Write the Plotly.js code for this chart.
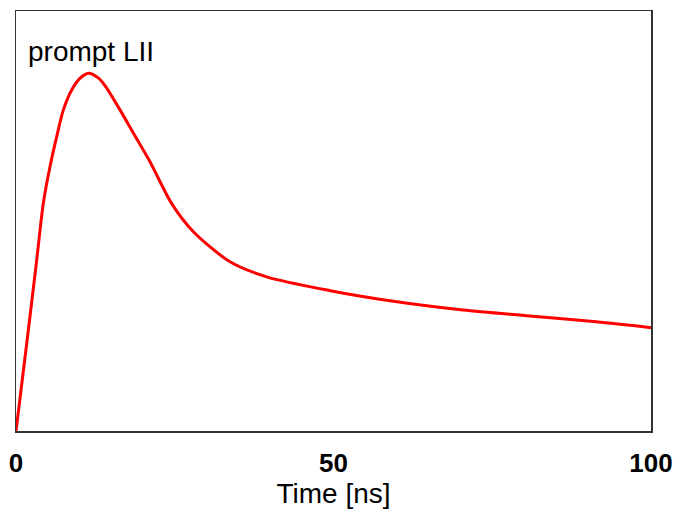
<!DOCTYPE html>
<html><head><meta charset="utf-8">
<script src="https://cdn.plot.ly/plotly-3.0.1.min.js"></script>
<style>html,body{margin:0;padding:0;background:#fff}#chart{width:673px;height:511px}</style>
</head><body><div id="chart"></div>
<script>
const timeNs = [0, 1.7, 3.26, 4.3, 5.35, 6.41, 7.45, 8.77, 10.1, 11.4, 13.0, 14.3, 16.4, 18.5, 21.1, 24.5, 27.9, 33.7, 39.5, 49.5, 58.9, 70.4, 80.9, 91.4, 100];
const signal = [0, 0.21, 0.407, 0.542, 0.629, 0.701, 0.764, 0.812, 0.840, 0.852, 0.840, 0.816, 0.764, 0.709, 0.641, 0.542, 0.475, 0.403, 0.367, 0.334, 0.310, 0.288, 0.274, 0.260, 0.246];
const xTicks = [0, 50, 100];
const label = "prompt LII";
const xTitle = "Time [ns]";

Plotly.newPlot('chart', [{
  x: timeNs, y: signal, type: 'scatter', mode: 'lines',
  line: {color: '#ff0000', width: 3, shape: 'spline', smoothing: 0.8},
  hoverinfo: 'skip'
}], {
  width: 673, height: 511,
  margin: {l: 16, r: 22, t: 11, b: 80},
  paper_bgcolor: '#fff', plot_bgcolor: '#fff',
  showlegend: false,
  font: {family: 'Liberation Sans, Arial, sans-serif', color: '#000'},
  xaxis: {
    range: [0, 100], tickvals: xTicks, ticks: '', showgrid: false, zeroline: false,
    showline: true, mirror: true, linecolor: '#333', linewidth: 1.5,
    tickfont: {size: 26, family: 'Liberation Sans, Arial, sans-serif', weight: 'bold'},
    ticklabelstandoff: 8,
    title: {text: xTitle, font: {size: 28}, standoff: 4}
  },
  yaxis: {
    range: [0, 1], showticklabels: false, ticks: '', showgrid: false, zeroline: false,
    showline: true, mirror: true, linecolor: '#333', linewidth: 1.5
  },
  annotations: [{
    text: label, xref: 'paper', yref: 'paper', x: 0.016, y: 0.903,
    xanchor: 'left', yanchor: 'middle', showarrow: false,
    font: {size: 28, color: '#000'}
  }]
}, {staticPlot: true});
</script></body></html>
